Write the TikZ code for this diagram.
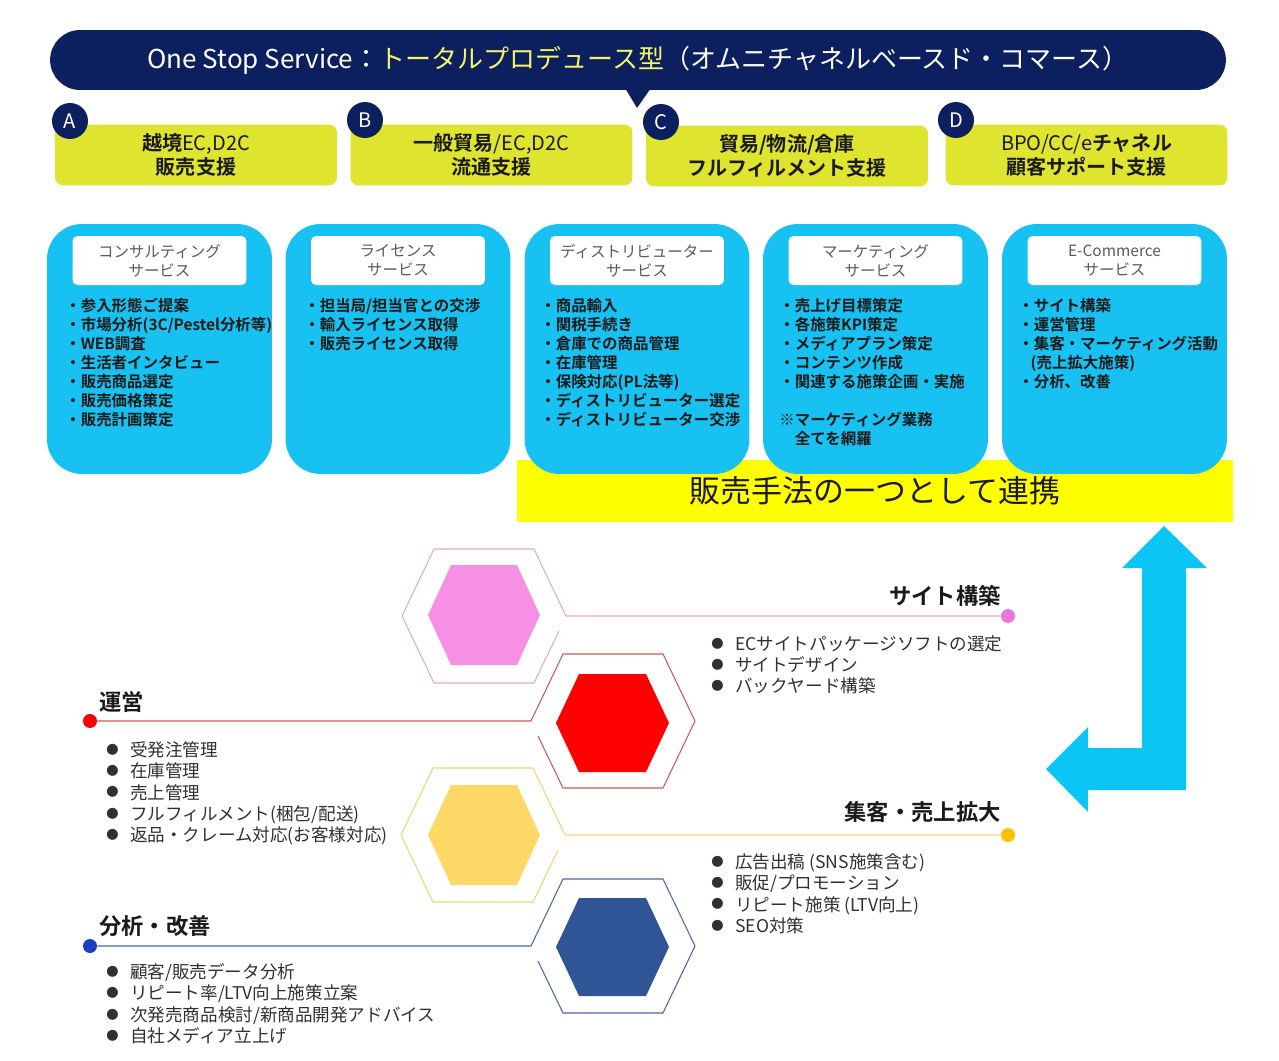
\documentclass[tikz,border=0pt]{standalone}
\usepackage{fontspec}
\setmainfont{Noto Sans CJK JP}[BoldFont={Noto Sans CJK JP Bold}]
\usetikzlibrary{
  positioning
}
\definecolor{omniInk}{HTML}{1A1A1A}
\definecolor{omniText}{HTML}{303030}
\definecolor{omniGrey}{HTML}{5A5A5A}
\definecolor{omniNavy}{HTML}{0C1F5E}
\definecolor{omniLemon}{HTML}{F4F46A}
\definecolor{omniLime}{HTML}{DFE52E}
\definecolor{omniSky}{HTML}{17C2F2}
\definecolor{omniYellow}{HTML}{FFFF00}
\definecolor{omniArrow}{HTML}{0BC6F5}
\definecolor{sitePink}{HTML}{F590E4}
\definecolor{sitePinkLine}{HTML}{DDA6DA}
\definecolor{sitePinkDot}{HTML}{E878DC}
\definecolor{opsRed}{HTML}{FF0000}
\definecolor{opsRedLine}{HTML}{C95B57}
\definecolor{salesGold}{HTML}{FDD866}
\definecolor{salesGoldLine}{HTML}{EFD27C}
\definecolor{salesGoldDot}{HTML}{FFC000}
\definecolor{kpiBlue}{HTML}{2F5597}
\definecolor{kpiBlueLine}{HTML}{4A66A8}
\definecolor{kpiBlueDot}{HTML}{1A3FC4}
\newcommand\dotitem{\makebox[1.36em][l]{\raisebox{0.12em}{\fontsize{7}{7}\selectfont ●}}}
\tikzset{
  every node/.style={text=omniInk},
  banner/.style={
    fill=omniNavy,
    rounded corners=0.6cm,
    minimum width=23.52cm,
    minimum height=1.2cm,
    text=white,
    font=\fontsize{14.8}{16}\selectfont
  },
  support/.style={
    fill=omniLime,
    rounded corners=0.16cm,
    minimum width=5.64cm,
    minimum height=1.22cm,
    inner sep=0pt,
    align=center,
    font=\fontsize{11.4}{13.7}\selectfont
  },
  tag/.style={
    circle,
    fill=omniNavy,
    minimum size=0.72cm,
    inner sep=0pt,
    text=white,
    font=\fontsize{11.4}{12}\selectfont
  },
  band/.style={
    fill=omniYellow,
    minimum width=14.32cm,
    minimum height=1.24cm,
    font=\fontsize{17.6}{20}\selectfont
  },
  service/.style={
    fill=omniSky,
    rounded corners=0.7cm,
    minimum width=4.5cm,
    minimum height=5cm
  },
  titlebox/.style={
    fill=white,
    rounded corners=0.1cm,
    minimum width=3.48cm,
    minimum height=0.98cm,
    inner sep=0pt,
    align=center,
    text=omniGrey,
    font=\fontsize{8.8}{10.8}\selectfont
  },
  itemlist/.style={
    anchor=north west,
    inner sep=0pt,
    align=left,
    font=\bfseries\fontsize{8.8}{10.8}\selectfont
  },
  ring/.style={line width=0.6pt},
  dot/.style={circle, minimum size=0.28cm, inner sep=0pt},
  hextitle/.style={
    inner sep=0pt,
    font=\bfseries\fontsize{12.7}{14}\selectfont
  },
  hexlist/.style={
    anchor=north west,
    inner sep=0pt,
    align=left,
    text=omniText,
    font=\fontsize{10}{12.2}\selectfont
  }
}

\begin{document}
\begin{tikzpicture}[x=0.02cm, y=-0.02cm]
  \useasboundingbox (0,0) rectangle (1279,1061);

  % banner with its pointer
  \node[banner] (banner) at (638,60)
    {One Stop Service：\textcolor{omniLemon}{トータルプロデュース型}（オムニチャネルベースド・コマース）};
  \fill[omniNavy] (625,88) -- (637,108) -- (651,88) -- cycle;

  % four support areas
  \node[support] (supA) at (196,155) {\textbf{越境}EC,D2C\\\textbf{販売支援}};
  \node[support] (supB) at (491.5,155) {\textbf{一般貿易}/EC,D2C\\\textbf{流通支援}};
  \node[support] (supC) at (787,156) {\textbf{貿易/物流/倉庫}\\\textbf{フルフィルメント支援}};
  \node[support] (supD) at (1086.5,155) {BPO/CC/e\textbf{チャネル}\\\textbf{顧客サポート支援}};

  \node[tag] (tagA) at (70,121) {A};
  \node[tag] (tagB) at (365,120) {B};
  \node[tag] (tagC) at (661,122) {C};
  \node[tag] (tagD) at (956,120) {D};

  % band behind the last three services
  \node[band] (band) at (875,491) {\raisebox{-0.15em}{販売手法の一つとして連携}};

  % service boxes
  \node[service] (cons) at (159.5,349) {};
  \node[titlebox, below=0.24cm of cons.north] (consT) {コンサルティング\\サービス};
  \node[itemlist] (consL) at (65,298) {%
    ・参入形態ご提案\\・市場分析(3C/Pestel分析等)\\・WEB調査\\・生活者インタビュー\\
    ・販売商品選定\\・販売価格策定\\・販売計画策定};

  \node[service] (lic) at (398,349) {};
  \node[titlebox, below=0.24cm of lic.north] (licT) {ライセンス\\サービス};
  \node[itemlist] (licL) at (304,298) {%
    ・担当局/担当官との交渉\\・輸入ライセンス取得\\・販売ライセンス取得};

  \node[service] (dist) at (637,349) {};
  \node[titlebox, below=0.24cm of dist.north] (distT) {ディストリビューター\\サービス};
  \node[itemlist] (distL) at (540,298) {%
    ・商品輸入\\・関税手続き\\・倉庫での商品管理\\・在庫管理\\・保険対応(PL法等)\\
    ・ディストリビューター選定\\・ディストリビューター交渉};

  \node[service] (mkt) at (875.5,349) {};
  \node[titlebox, below=0.24cm of mkt.north] (mktT) {マーケティング\\サービス};
  \node[itemlist] (mktL) at (779,298) {%
    ・売上げ目標策定\\・各施策KPI策定\\・メディアプラン策定\\・コンテンツ作成\\
    ・関連する施策企画・実施\\[10.8pt]※マーケティング業務\\\hspace*{1em}全てを網羅};

  \node[service] (ecom) at (1114.5,349) {};
  \node[titlebox, below=0.24cm of ecom.north] (ecomT) {E-Commerce\\サービス};
  \node[itemlist] (ecomL) at (1018,298) {%
    ・サイト構築\\・運営管理\\・集客・マーケティング活動\\\hspace*{0.8em}(売上拡大施策)\\・分析、改善};

  % bent arrow
  \fill[omniArrow] (1164,526) -- (1207,568) -- (1186,568) -- (1186,790) -- (1088,790)
    -- (1088,812) -- (1046,769) -- (1088,727) -- (1088,748) -- (1142,748)
    -- (1142,568) -- (1122,568) -- cycle;

  % hexagon rings and their lines
  \node[dot, fill=sitePinkDot] (siteDot) at (1008,616) {};
  \coordinate (siteV) at (566,616);
  \draw[ring, draw=sitePinkLine] (siteDot) -- (siteV) -- ++(-32,-67) -- ++(-100,0)
    -- ++(-32,67) -- ++(32,67) -- ++(100,0) -- ++(25,-52);
  \fill[sitePink] (428,615) -- ++(23,-50) -- ++(66,0) -- ++(23,50) -- ++(-23,50)
    -- ++(-66,0) -- cycle;

  \node[dot, fill=opsRed] (opsDot) at (90,721) {};
  \coordinate (opsV) at (531,721);
  \draw[ring, draw=opsRedLine] (opsDot) -- (opsV) -- ++(32,-67) -- ++(100,0)
    -- ++(32,67) -- ++(-32,67) -- ++(-100,0) -- ++(-25,-52);
  \fill[opsRed] (556,723) -- ++(23,-49) -- ++(67,0) -- ++(23,49) -- ++(-23,49)
    -- ++(-67,0) -- cycle;

  \node[dot, fill=salesGoldDot] (salesDot) at (1008,835) {};
  \coordinate (salesV) at (565,835);
  \draw[ring, draw=salesGoldLine] (salesDot) -- (salesV) -- ++(-32,-67) -- ++(-100,0)
    -- ++(-32,67) -- ++(32,67) -- ++(100,0) -- ++(25,-52);
  \fill[salesGold] (428,835) -- ++(23,-50) -- ++(66,0) -- ++(23,50) -- ++(-23,50)
    -- ++(-66,0) -- cycle;

  \node[dot, fill=kpiBlueDot] (kpiDot) at (90,946) {};
  \coordinate (kpiV) at (531,946);
  \draw[ring, draw=kpiBlueLine] (kpiDot) -- (kpiV) -- ++(32,-67) -- ++(100,0)
    -- ++(32,67) -- ++(-32,67) -- ++(-100,0) -- ++(-25,-52);
  \fill[kpiBlue] (556,947) -- ++(23,-49) -- ++(67,0) -- ++(23,49) -- ++(-23,49)
    -- ++(-67,0) -- cycle;

  % titles and item lists
  \node[hextitle, anchor=east] (siteT) at (1001,596) {サイト構築};
  \node[hexlist] (siteL) at (711,635) {%
    \dotitem ECサイトパッケージソフトの選定\\\dotitem サイトデザイン\\\dotitem バックヤード構築};

  \node[hextitle, anchor=west] (opsT) at (99,702) {運営};
  \node[hexlist] (opsL) at (106,741) {%
    \dotitem 受発注管理\\\dotitem 在庫管理\\\dotitem 売上管理\\
    \dotitem フルフィルメント(梱包/配送)\\\dotitem 返品・クレーム対応(お客様対応)};

  \node[hextitle, anchor=east] (salesT) at (1001,812) {集客・売上拡大};
  \node[hexlist] (salesL) at (711,853) {%
    \dotitem 広告出稿 (SNS施策含む)\\\dotitem 販促/プロモーション\\
    \dotitem リピート施策 (LTV向上)\\\dotitem SEO対策};

  \node[hextitle, anchor=west] (kpiT) at (99,926) {分析・改善};
  \node[hexlist] (kpiL) at (106,963) {%
    \dotitem 顧客/販売データ分析\\\dotitem リピート率/LTV向上施策立案\\
    \dotitem 次発売商品検討/新商品開発アドバイス\\\dotitem 自社メディア立上げ};
\end{tikzpicture}
\end{document}
